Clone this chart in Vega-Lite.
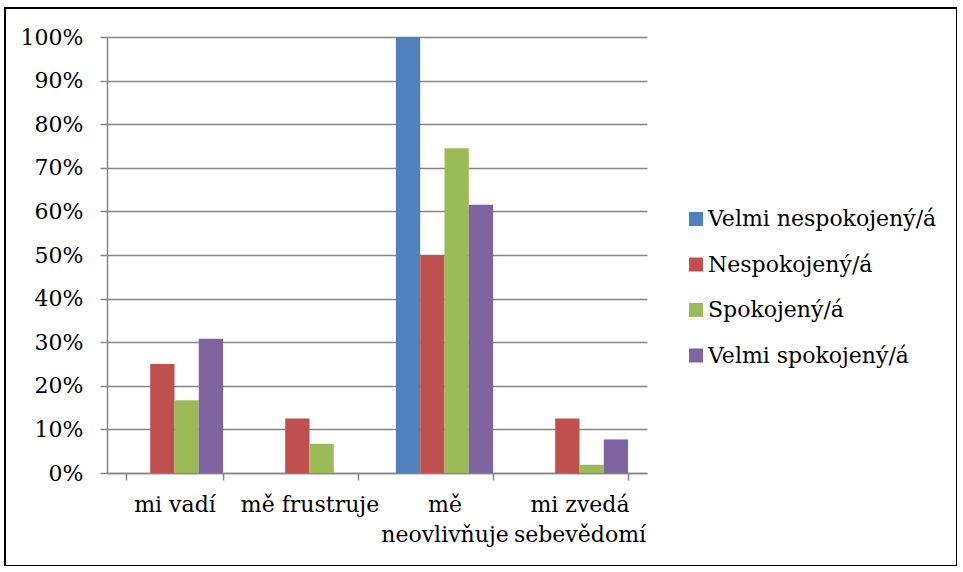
{
  "$schema": "https://vega.github.io/schema/vega-lite/v6.json",
  "width": 952,
  "height": 558,
  "autosize": {"type": "none"},
  "padding": {"left": 5, "top": 8, "right": 0, "bottom": 0},
  "background": "white",
  "config": {
    "view": {"stroke": "#000000", "strokeWidth": 2},
    "font": "DejaVu Serif",
    "axis": {"labelFont": "DejaVu Serif"},
    "legend": {"labelFont": "DejaVu Serif"}
  },
  "data": {
    "values": [
      {"kategorie": "mi vadí", "spokojenost": "Velmi nespokojený/á", "podil": 0},
      {"kategorie": "mi vadí", "spokojenost": "Nespokojený/á", "podil": 0.25},
      {"kategorie": "mi vadí", "spokojenost": "Spokojený/á", "podil": 0.167},
      {"kategorie": "mi vadí", "spokojenost": "Velmi spokojený/á", "podil": 0.308},
      {"kategorie": "mě frustruje", "spokojenost": "Velmi nespokojený/á", "podil": 0},
      {"kategorie": "mě frustruje", "spokojenost": "Nespokojený/á", "podil": 0.125},
      {"kategorie": "mě frustruje", "spokojenost": "Spokojený/á", "podil": 0.067},
      {"kategorie": "mě frustruje", "spokojenost": "Velmi spokojený/á", "podil": 0},
      {"kategorie": "mě neovlivňuje", "spokojenost": "Velmi nespokojený/á", "podil": 1.0},
      {"kategorie": "mě neovlivňuje", "spokojenost": "Nespokojený/á", "podil": 0.5},
      {"kategorie": "mě neovlivňuje", "spokojenost": "Spokojený/á", "podil": 0.745},
      {"kategorie": "mě neovlivňuje", "spokojenost": "Velmi spokojený/á", "podil": 0.615},
      {"kategorie": "mi zvedá sebevědomí", "spokojenost": "Velmi nespokojený/á", "podil": 0},
      {"kategorie": "mi zvedá sebevědomí", "spokojenost": "Nespokojený/á", "podil": 0.125},
      {"kategorie": "mi zvedá sebevědomí", "spokojenost": "Spokojený/á", "podil": 0.019},
      {"kategorie": "mi zvedá sebevědomí", "spokojenost": "Velmi spokojený/á", "podil": 0.077}
    ]
  },
  "mark": {"type": "bar"},
  "encoding": {
    "x": {
      "field": "kategorie",
      "type": "nominal",
      "sort": ["mi vadí", "mě frustruje", "mě neovlivňuje", "mi zvedá sebevědomí"],
      "scale": {"range": [102, 642], "paddingInner": 0.28, "paddingOuter": 0.14},
      "axis": {
        "title": null,
        "orient": "bottom",
        "offset": -93,
        "grid": false,
        "domainColor": "#868686",
        "domainWidth": 1.5,
        "tickColor": "#868686",
        "tickWidth": 1.5,
        "tickSize": 7,
        "tickBand": "extent",
        "labelAngle": 0,
        "labelFontSize": 22,
        "labelColor": "#000000",
        "labelPadding": 14,
        "labelLineHeight": 30,
        "labelLimit": 300,
        "labelExpr": "datum.label == 'mě neovlivňuje' ? ['mě', 'neovlivňuje'] : datum.label == 'mi zvedá sebevědomí' ? ['mi zvedá', 'sebevědomí'] : datum.label"
      }
    },
    "xOffset": {
      "field": "spokojenost",
      "sort": ["Velmi nespokojený/á", "Nespokojený/á", "Spokojený/á", "Velmi spokojený/á"],
      "scale": {"paddingInner": 0, "paddingOuter": 0}
    },
    "y": {
      "field": "podil",
      "type": "quantitative",
      "scale": {"domain": [0, 1], "range": [465, 29]},
      "axis": {
        "title": null,
        "orient": "left",
        "offset": -102,
        "values": [0, 0.1, 0.2, 0.3, 0.4, 0.5, 0.6, 0.7, 0.8, 0.9, 1.0],
        "format": ".0%",
        "grid": true,
        "gridColor": "#868686",
        "gridWidth": 1.5,
        "domainColor": "#868686",
        "domainWidth": 1.5,
        "tickColor": "#868686",
        "tickWidth": 1.5,
        "tickSize": 7,
        "labelFontSize": 22,
        "labelColor": "#000000",
        "labelPadding": 17
      }
    },
    "color": {
      "field": "spokojenost",
      "type": "nominal",
      "sort": ["Velmi nespokojený/á", "Nespokojený/á", "Spokojený/á", "Velmi spokojený/á"],
      "scale": {
        "domain": ["Velmi nespokojený/á", "Nespokojený/á", "Spokojený/á", "Velmi spokojený/á"],
        "range": ["#4F81BD", "#C0504D", "#9BBB59", "#8064A2"]
      },
      "legend": {
        "title": null,
        "orient": "none",
        "legendX": 680,
        "legendY": 200,
        "padding": 0,
        "symbolType": "square",
        "symbolSize": 196,
        "symbolStrokeWidth": 0,
        "symbolOpacity": 1,
        "labelFontSize": 22,
        "labelColor": "#000000",
        "labelOffset": 1,
        "labelLimit": 400,
        "rowPadding": 23.5
      }
    }
  }
}
